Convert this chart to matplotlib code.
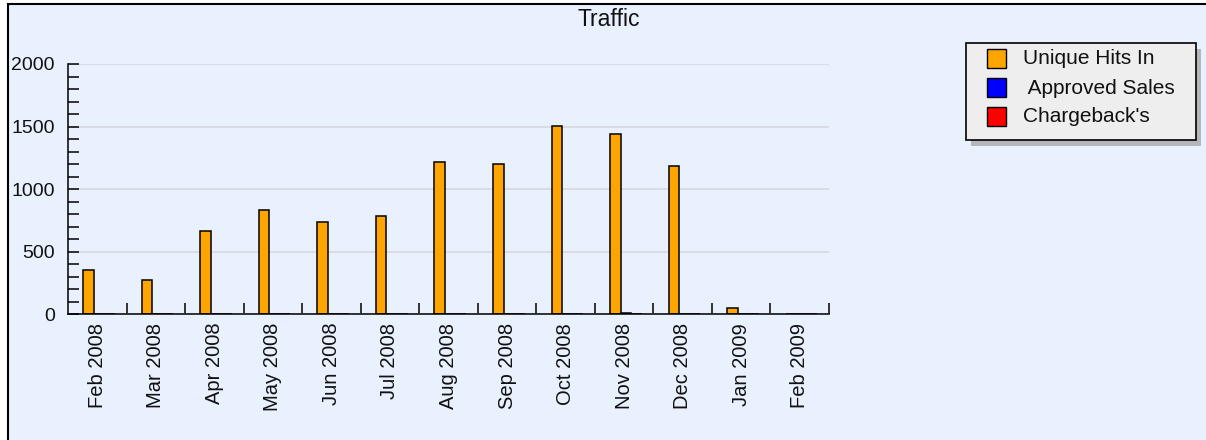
import matplotlib
matplotlib.use("Agg")

import numpy as np
import matplotlib.pyplot as plt
from matplotlib.patches import Rectangle
from matplotlib.transforms import Affine2D

months = ["Feb 2008", "Mar 2008", "Apr 2008", "May 2008", "Jun 2008", "Jul 2008",
          "Aug 2008", "Sep 2008", "Oct 2008", "Nov 2008", "Dec 2008", "Jan 2009", "Feb 2009"]
unique_hits = [355, 275, 670, 835, 740, 785, 1215, 1200, 1505, 1440, 1185, 50, 0]
approved_sales = [0, 0, 0, 0, 0, 0, 0, 0, 0, 10, 0, 0, 0]
chargebacks = [0, 0, 0, 0, 0, 0, 0, 0, 0, 0, 0, 0, 0]

series_names = ["Unique Hits In", " Approved Sales", "Chargeback's"]
series_colors = ["#FFA500", "#0000FF", "#FF0000"]

W, H = 1206, 440
plt.rcParams["font.family"] = ["Liberation Sans", "DejaVu Sans"]

fig = plt.figure(figsize=(W / 100, H / 100), dpi=100)
fig.patch.set_facecolor("white")

# pixel coords, origin top-left
px = Affine2D().scale(1 / W, -1 / H).translate(0, 1) + fig.transFigure

panel = Rectangle((8, 4), W + 20, H + 20, transform=px, facecolor="#E8F1FD",
                  edgecolor="black", linewidth=1.5, zorder=-10)
fig.patches.append(panel)

left, right, top, bottom = 68, 829, 64, 314.5
ax = fig.add_axes([left / W, 1 - bottom / H, (right - left) / W, (bottom - top) / H])
ax.patch.set_visible(False)

x = np.arange(len(months))
width = 0.18
offsets = [-0.15, 0.03, 0.21]
for vals, off, color in zip([unique_hits, approved_sales, chargebacks], offsets, series_colors):
    ax.bar(x + off, vals, width=width, color=color, edgecolor="black", linewidth=1.1, zorder=3)

ax.set_xlim(-0.5, len(months) - 0.5)
ax.set_ylim(0, 2000)

ax.spines["top"].set_visible(False)
ax.spines["right"].set_visible(False)
for s in ["left", "bottom"]:
    ax.spines[s].set_linewidth(1.1)
    ax.spines[s].set_zorder(4)

ax.set_yticks([0, 500, 1000, 1500, 2000])
ax.set_yticks(np.arange(0, 2001, 100), minor=True)
ax.tick_params(axis="y", which="both", direction="in", length=8, width=1.1,
               labelsize=14, pad=9.5, labelcolor="#111111")
ax.grid(axis="y", which="major", color="#D6D9DE", linewidth=1.2, zorder=1)
ax.set_axisbelow(True)

ax.set_xticks(x)
ax.set_xticklabels(months, rotation=90, fontsize=14.5, color="#111111")
ax.set_xticks(np.arange(0.5, len(months), 1.0), minor=True)
ax.tick_params(axis="x", which="major", length=0, pad=6)
ax.tick_params(axis="x", which="minor", direction="in", length=8, width=1.1)

fig.text(609 / W, 1 - 20 / H, "Traffic", ha="center", va="center", fontsize=16.5, color="#111111")

# legend box with shadow
lx0, ly0, lx1, ly1 = 966, 43, 1196, 140
fig.patches.append(Rectangle((lx0 + 5, ly0 + 6), lx1 - lx0, ly1 - ly0, transform=px,
                             facecolor="#A8A8A8", edgecolor="none", alpha=0.8, zorder=5))
fig.patches.append(Rectangle((lx0, ly0), lx1 - lx0, ly1 - ly0, transform=px,
                             facecolor="#EEEEEE", edgecolor="black", linewidth=1.2, zorder=6))
row_y = [59, 88, 117]
for name, color, cy in zip(series_names, series_colors, row_y):
    fig.patches.append(Rectangle((987, cy - 9.5), 19, 19, transform=px, facecolor=color,
                                 edgecolor="black", linewidth=1.0, zorder=7))
    fig.text(1023 / W, 1 - cy / H, name, ha="left", va="center", fontsize=15,
             color="#111111", zorder=8)

fig.savefig("out.png", dpi=100)
